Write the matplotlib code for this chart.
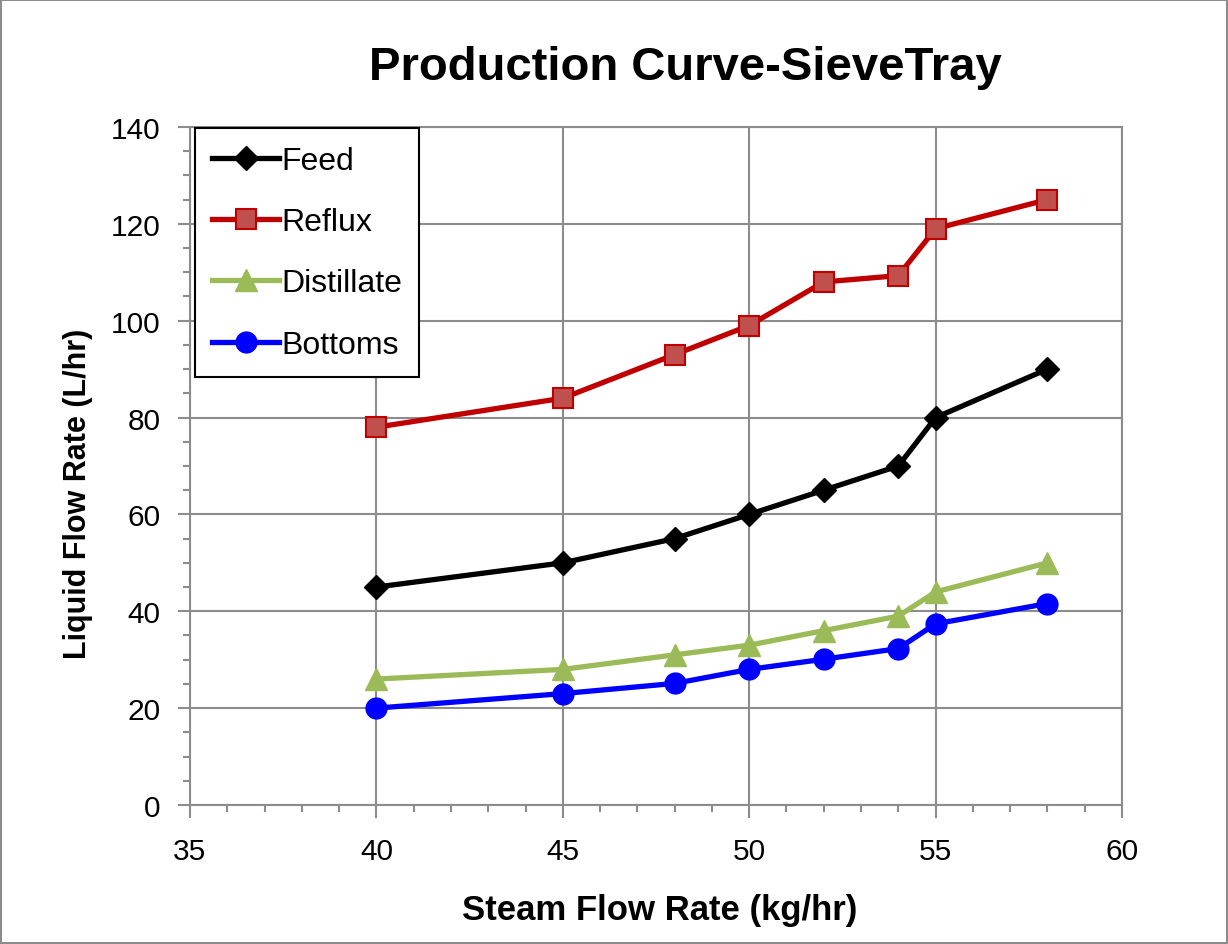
import matplotlib
matplotlib.use("Agg")
import matplotlib.pyplot as plt
from matplotlib.ticker import MultipleLocator

plt.rcParams['font.family'] = ['Liberation Sans', 'DejaVu Sans']

# steam flow rate (kg/hr)
steam = [40, 45, 48, 50, 52, 54, 55, 58]
# liquid flow rates (L/hr)
feed = [45, 50, 55, 60, 65, 70, 80, 90]
reflux = [78, 84, 93, 99, 108, 109.3, 119, 125]
distillate = [26, 28, 31, 33, 36, 39, 44, 50]
bottoms = [20, 23, 25.1, 28, 30.1, 32.3, 37.4, 41.6]

fig = plt.figure(figsize=(12.28, 9.45), dpi=100)
fig.patch.set_edgecolor('#8c8c8c')
fig.patch.set_linewidth(1.5)
ax = fig.add_axes([0.1547, 0.1471, 0.759, 0.7175])

ax.plot(steam, feed, color='black', lw=3.8, marker='D', ms=12, label='Feed', zorder=3)
ax.plot(steam, reflux, color='#c00000', lw=3.8, marker='s', ms=15, mfc='#c0504d',
        mec='#c00000', mew=1.5, label='Reflux', zorder=3)
ax.plot(steam, distillate, color='#9bbb59', lw=3.8, marker='^', ms=16, label='Distillate', zorder=3)
ax.plot(steam, bottoms, color='#0000ff', lw=3.8, marker='o', ms=15, label='Bottoms', zorder=3)

ax.set_xlim(35, 60)
ax.set_ylim(0, 140)
ax.xaxis.set_major_locator(MultipleLocator(5))
ax.xaxis.set_minor_locator(MultipleLocator(1))
ax.yaxis.set_major_locator(MultipleLocator(20))
ax.yaxis.set_minor_locator(MultipleLocator(5))
ax.grid(True, which='major', color='#8c8c8c', lw=1.5)
ax.set_axisbelow(True)
for s in ax.spines.values():
    s.set_color('#8c8c8c')
    s.set_linewidth(1.5)
ax.tick_params(which='both', direction='out', color='#8c8c8c', width=1.5)
ax.tick_params(which='major', length=9, labelsize=21.5)
ax.tick_params(axis='x', which='major', pad=14)
ax.tick_params(axis='y', which='major', pad=12)
ax.tick_params(which='minor', length=5)

fig.text(0.558, 0.928, 'Production Curve-SieveTray', fontsize=34, fontweight='bold',
         ha='center', va='center')
ax.set_xlabel('Steam Flow Rate (kg/hr)', fontsize=25, fontweight='bold')
ax.xaxis.set_label_coords(0.504, -0.13)
ax.set_ylabel('Liquid Flow Rate (L/hr)', fontsize=22, fontweight='bold')
ax.yaxis.set_label_coords(-0.104, 0.46)

leg = ax.legend(loc='upper left', bbox_to_anchor=(0.005, 0.998), fontsize=23,
                fancybox=False, framealpha=1, edgecolor='black', borderpad=0.55,
                labelspacing=0.98, handlelength=2.1, handletextpad=0.05, borderaxespad=0)
leg.get_frame().set_linewidth(1.5)

plt.savefig('out.png', dpi=100)
